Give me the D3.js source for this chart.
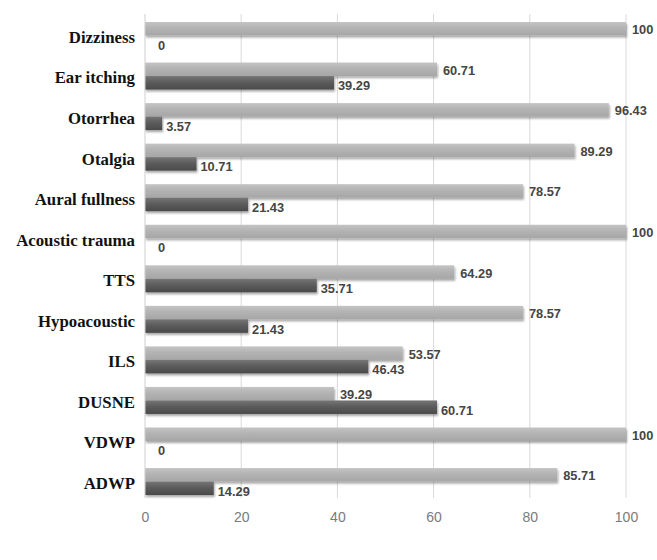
<!DOCTYPE html>
<html>
<head>
<meta charset="utf-8">
<script src="https://cdn.jsdelivr.net/npm/d3@7"></script>
<style>
  html, body { margin: 0; padding: 0; background: #fff; }
  svg { display: block; }
</style>
</head>
<body>
<svg id="chart" width="657" height="560"></svg>
<script>
// Symptom categories, listed top to bottom
const categories = ["Dizziness", "Ear itching", "Otorrhea", "Otalgia", "Aural fullness",
  "Acoustic trauma", "TTS", "Hypoacoustic", "ILS", "DUSNE", "VDWP", "ADWP"];
// Upper (light) bar in each pair
const lightValues = [100, 60.71, 96.43, 89.29, 78.57, 100, 64.29, 78.57, 53.57, 39.29, 100, 85.71];
// Lower (dark) bar in each pair
const darkValues = [0, 39.29, 3.57, 10.71, 21.43, 0, 35.71, 21.43, 46.43, 60.71, 0, 14.29];
const xTicks = [0, 20, 40, 60, 80, 100];

const svg = d3.select("#chart");
const plotLeft = 145, plotRight = 626, plotTop = 14, plotBottom = 498;

const x = d3.scaleLinear().domain([0, 100]).range([plotLeft, plotRight]);
const y = d3.scaleBand().domain(categories).range([plotTop, plotBottom])
  .paddingInner(0.334).paddingOuter(0.135).align(0.73);
const sub = d3.scaleBand().domain(["light", "dark"]).range([0, y.bandwidth()]);

const defs = svg.append("defs");
const lg = defs.append("linearGradient").attr("id", "gLight").attr("x1", 0).attr("y1", 0).attr("x2", 0).attr("y2", 1);
lg.append("stop").attr("offset", "0%").attr("stop-color", "#c4c4c4");
lg.append("stop").attr("offset", "45%").attr("stop-color", "#b3b3b3");
lg.append("stop").attr("offset", "100%").attr("stop-color", "#a6a6a6");
const dg = defs.append("linearGradient").attr("id", "gDark").attr("x1", 0).attr("y1", 0).attr("x2", 0).attr("y2", 1);
dg.append("stop").attr("offset", "0%").attr("stop-color", "#767676");
dg.append("stop").attr("offset", "45%").attr("stop-color", "#5c5c5c");
dg.append("stop").attr("offset", "100%").attr("stop-color", "#4a4a4a");
const sh = defs.append("filter").attr("id", "shadow").attr("x", "-5%").attr("y", "-30%").attr("width", "110%").attr("height", "180%");
sh.append("feDropShadow").attr("dx", 1).attr("dy", 2).attr("stdDeviation", 1.2)
  .attr("flood-color", "#000").attr("flood-opacity", 0.35);

// Vertical gridlines
svg.append("g").selectAll("line").data(xTicks.slice(1)).join("line")
  .attr("x1", d => x(d)).attr("x2", d => x(d))
  .attr("y1", plotTop).attr("y2", plotBottom)
  .attr("stroke", "#d9d9d9").attr("stroke-width", 1);

// Bottom axis: tick labels only
const xAxis = d3.axisBottom(x).tickValues(xTicks).tickSize(0).tickPadding(0);
const gx = svg.append("g").attr("transform", `translate(0,${plotBottom + 14})`).call(xAxis);
gx.select(".domain").remove();
gx.selectAll("text").attr("font-family", "Arial, 'Liberation Sans', sans-serif")
  .attr("font-size", 14).attr("fill", "#7a7a7a");

// Left axis: category names
const yAxis = d3.axisLeft(y).tickSize(0).tickPadding(10);
const gy = svg.append("g").attr("transform", `translate(${plotLeft},2)`).call(yAxis);
gy.select(".domain").remove();
gy.selectAll("text").attr("font-family", "'Liberation Serif', 'Times New Roman', serif")
  .attr("font-weight", "bold").attr("font-size", 16.8).attr("fill", "#111")
  .attr("dy", "0.32em");

const rows = categories.map((c, i) => ({ c, light: lightValues[i], dark: darkValues[i] }));

const bars = svg.append("g");
bars.selectAll("rect.light").data(rows).join("rect").attr("class", "light")
  .attr("x", x(0)).attr("y", d => y(d.c) + sub("light"))
  .attr("width", d => x(d.light) - x(0)).attr("height", sub.bandwidth())
  .attr("fill", "url(#gLight)").attr("filter", "url(#shadow)");
bars.selectAll("rect.dark").data(rows.filter(d => d.dark > 0)).join("rect").attr("class", "dark")
  .attr("x", x(0)).attr("y", d => y(d.c) + sub("dark"))
  .attr("width", d => x(d.dark) - x(0)).attr("height", sub.bandwidth())
  .attr("fill", "url(#gDark)").attr("filter", "url(#shadow)");

// Left axis line
svg.append("line").attr("x1", plotLeft).attr("x2", plotLeft).attr("y1", plotTop).attr("y2", plotBottom)
  .attr("stroke", "#cfcfcf").attr("stroke-width", 1);

// Value labels
const labelFont = "Arial, 'Liberation Sans', sans-serif";
svg.append("g").selectAll("text").data(rows).join("text")
  .attr("x", d => x(d.light) + 6)
  .attr("y", d => y(d.c) + sub("light") + sub.bandwidth() / 2 + 1)
  .attr("dy", "0.35em")
  .attr("font-family", labelFont).attr("font-weight", "bold").attr("font-size", 12.8)
  .attr("fill", "#454545")
  .text(d => d3.format("")(d.light));
svg.append("g").selectAll("text").data(rows).join("text")
  .attr("x", d => x(d.dark) + (d.dark === 0 ? 13 : 4))
  .attr("y", d => y(d.c) + sub("dark") + sub.bandwidth() / 2 + 3)
  .attr("dy", "0.35em")
  .attr("font-family", labelFont).attr("font-weight", "bold").attr("font-size", 12.8)
  .attr("fill", "#454545")
  .text(d => d3.format("")(d.dark));
</script>
</body>
</html>
